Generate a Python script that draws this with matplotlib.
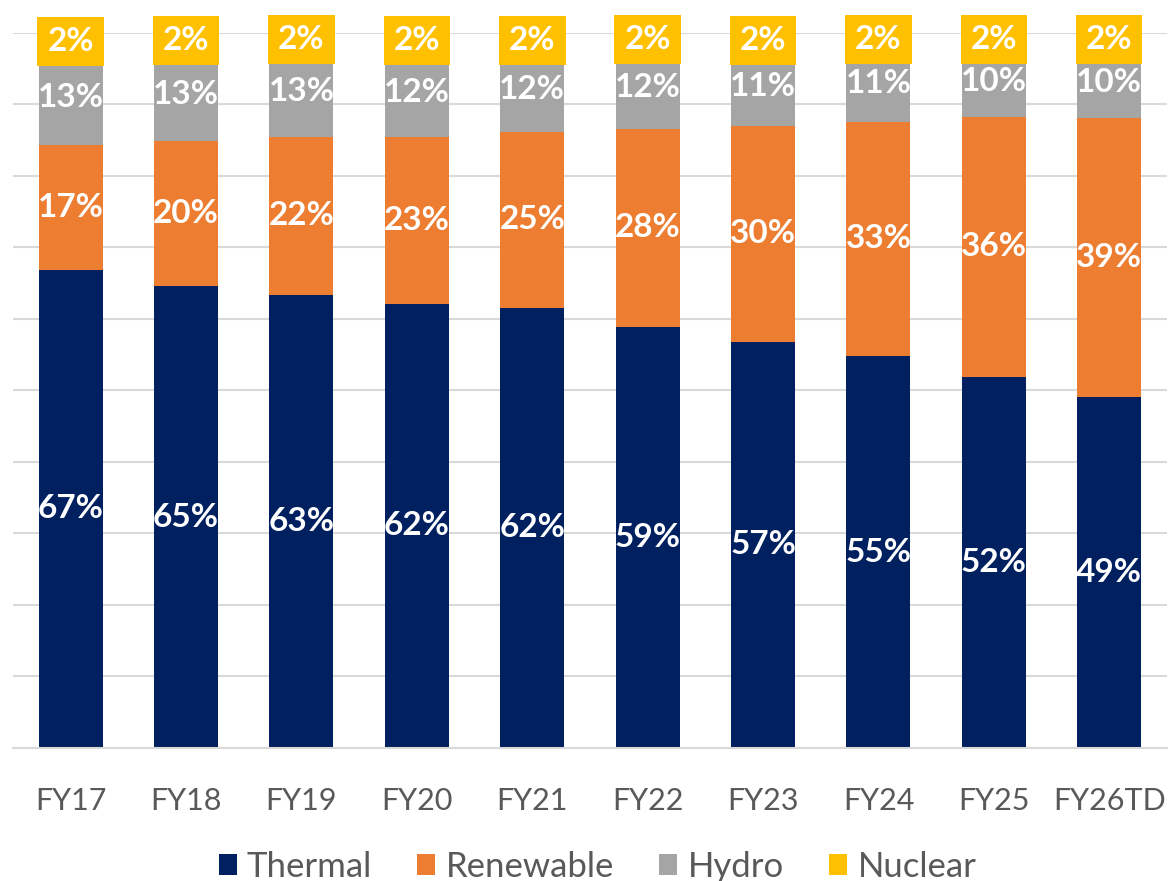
import numpy as np
import matplotlib
matplotlib.use("Agg")
import matplotlib.pyplot as plt

# ---- data (share of generation, %) ------------------------------------------
years = ["FY17", "FY18", "FY19", "FY20", "FY21", "FY22", "FY23", "FY24", "FY25", "FY26TD"]
thermal = [66.9, 64.6, 63.4, 62.1, 61.6, 58.9, 56.8, 54.8, 51.9, 49.1]
renewable = [17.4, 20.3, 22.1, 23.4, 24.6, 27.7, 30.2, 32.8, 36.4, 39.0]
hydro = [13.4, 12.9, 12.6, 12.3, 11.8, 11.6, 11.0, 10.6, 9.8, 10.0]
nuclear = [2.3, 2.2, 1.9, 2.2, 2.0, 1.8, 2.0, 1.8, 1.9, 1.9]

series = [
    ("Thermal", thermal, "#002060"),
    ("Renewable", renewable, "#ED7D31"),
    ("Hydro", hydro, "#A5A5A5"),
    ("Nuclear", nuclear, "#FFC000"),
]

plt.rcParams["font.family"] = ["Lato", "DejaVu Sans"]

fig = plt.figure(figsize=(11.68, 8.81), dpi=100)
ax = fig.add_axes([0.0111, 0.151, 0.988, 0.8116])

x = np.arange(len(years))
bottom = np.zeros(len(years))
for name, vals, color in series:
    vals = np.array(vals)
    ax.bar(x, vals, width=0.555, bottom=bottom, color=color, label=name, zorder=2)
    for xi, b, v in zip(x, bottom, vals):
        kw = {}
        if name == "Nuclear":
            kw["bbox"] = dict(boxstyle="square,pad=0.3", facecolor=color, edgecolor="none")
        ax.text(xi, b + v / 2, f"{round(v):d}%", ha="center", va="center",
                color="white", fontsize=24, fontweight="bold", zorder=4,
                clip_on=False, **kw)
    bottom += vals

ax.set_xlim(-0.5, len(years) - 0.5)
ax.set_ylim(0, 100)
ax.set_yticks(np.arange(0, 101, 10))
ax.yaxis.grid(True, color="#d9d9d9", linewidth=1.5, zorder=0)
ax.set_axisbelow(True)
ax.tick_params(axis="y", left=False, labelleft=False)
ax.set_xticks(x)
ax.set_xticklabels(years, fontsize=22, color="#595959")
ax.tick_params(axis="x", length=0, pad=28)
for s in ["left", "right", "top"]:
    ax.spines[s].set_visible(False)
ax.spines["bottom"].set_color("#d9d9d9")
ax.spines["bottom"].set_linewidth(1.5)

fig.legend(loc="center", bbox_to_anchor=(0.5116, 0.016), ncol=4, frameon=False,
           fontsize=25, labelcolor="#595959", handlelength=0.52, handleheight=0.52,
           handletextpad=0.3, columnspacing=1.3)

fig.savefig("out.png", dpi=100)
